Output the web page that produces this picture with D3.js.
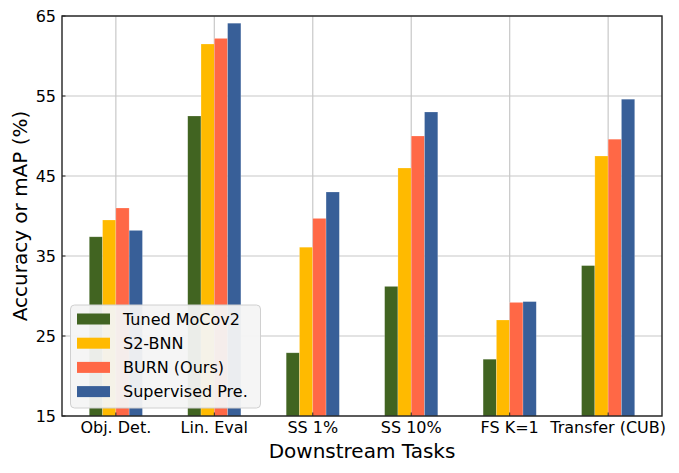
<!DOCTYPE html>
<html><head><meta charset="utf-8">
<script src="https://cdn.jsdelivr.net/npm/d3@7"></script>
<style>body{margin:0;background:#fff}svg{display:block;font-family:"DejaVu Sans",sans-serif}</style>
</head><body><svg id="c" width="679" height="473"></svg>
<script>
const categories = ["Obj. Det.", "Lin. Eval", "SS 1%", "SS 10%", "FS K=1", "Transfer (CUB)"];
const seriesNames = ["Tuned MoCov2", "S2-BNN", "BURN (Ours)", "Supervised Pre."];
const tunedMoCov2 = [37.4, 52.5, 22.9, 31.2, 22.1, 33.8];
const s2bnn = [39.5, 61.5, 36.1, 46.0, 27.0, 47.5];
const burn = [41.0, 62.2, 39.7, 50.0, 29.2, 49.6];
const supervised = [38.2, 64.1, 43.0, 53.0, 29.3, 54.6];
const yTicks = [15, 25, 35, 45, 55, 65];
const colors = ["#416421", "#ffba00", "#ff6846", "#385f98"];
const series = [tunedMoCov2, s2bnn, burn, supervised];

const svg = d3.select("#c");
const L = 62, R = 662, T = 16, B = 416;
const bw = 0.135;
const x = d3.scaleLinear().domain([-2*bw - 0.277, 5 + 2*bw + 0.277]).range([L, R]);
const y = d3.scaleLinear().domain([15, 65]).range([B, T]);

// grid
svg.append("g").selectAll("line").data(yTicks).join("line")
  .attr("x1", L).attr("x2", R).attr("y1", d => y(d)).attr("y2", d => y(d))
  .attr("stroke", "#c8c8c8").attr("stroke-width", 1.2);
svg.append("g").selectAll("line").data(categories).join("line")
  .attr("x1", (d,i) => x(i)).attr("x2", (d,i) => x(i)).attr("y1", T).attr("y2", B)
  .attr("stroke", "#c8c8c8").attr("stroke-width", 1.2);

// bars
series.forEach((vals, s) => {
  svg.append("g").selectAll("rect").data(vals).join("rect")
    .attr("x", (d,i) => x(i + (s - 2) * bw))
    .attr("width", x(bw) - x(0))
    .attr("y", d => y(d))
    .attr("height", d => B - y(d))
    .attr("fill", colors[s])
    .attr("stroke", "rgba(255,255,255,0.35)").attr("stroke-width", 0.6);
});

// ticks inward
svg.append("g").selectAll("line").data(yTicks).join("line")
  .attr("x1", L).attr("x2", L + 3.5).attr("y1", d => y(d)).attr("y2", d => y(d))
  .attr("stroke", "#222").attr("stroke-width", 1);
svg.append("g").selectAll("line").data(categories).join("line")
  .attr("x1", (d,i) => x(i)).attr("x2", (d,i) => x(i)).attr("y1", B).attr("y2", B - 3.5)
  .attr("stroke", "#222").attr("stroke-width", 1);

// spines
svg.append("rect").attr("x", L).attr("y", T).attr("width", R - L).attr("height", B - T)
  .attr("fill", "none").attr("stroke", "#222").attr("stroke-width", 1.4);

// tick labels
svg.append("g").selectAll("text").data(yTicks).join("text")
  .attr("x", 56).attr("y", d => y(d)).attr("dy", "0.36em")
  .attr("text-anchor", "end").attr("font-size", 16).attr("fill", "#000").text(d => d);
svg.append("g").selectAll("text").data(categories).join("text")
  .attr("x", (d,i) => x(i)).attr("y", 433)
  .attr("text-anchor", "middle").attr("font-size", 16).attr("fill", "#000").text(d => d);

// axis labels
svg.append("text").attr("x", (L + R) / 2).attr("y", 458).attr("text-anchor", "middle")
  .attr("font-size", 20).text("Downstream Tasks");
svg.append("text").attr("transform", `translate(27,${(T + B) / 2}) rotate(-90)`)
  .attr("text-anchor", "middle").attr("font-size", 20).text("Accuracy or mAP (%)");

// legend
const lg = svg.append("g");
lg.append("rect").attr("x", 70.5).attr("y", 305).attr("width", 190).attr("height", 103)
  .attr("rx", 4).attr("fill", "#f4f4f4").attr("fill-opacity", 0.95)
  .attr("stroke", "#d0d0d0").attr("stroke-width", 1);
seriesNames.forEach((n, i) => {
  const cy = 319 + i * 24.2;
  lg.append("rect").attr("x", 77).attr("y", cy - 5.5).attr("width", 33).attr("height", 11)
    .attr("fill", colors[i]);
  lg.append("text").attr("x", 123).attr("y", cy).attr("dy", "0.36em")
    .attr("font-size", 16).attr("fill", "#000").text(n);
});
</script></body></html>
